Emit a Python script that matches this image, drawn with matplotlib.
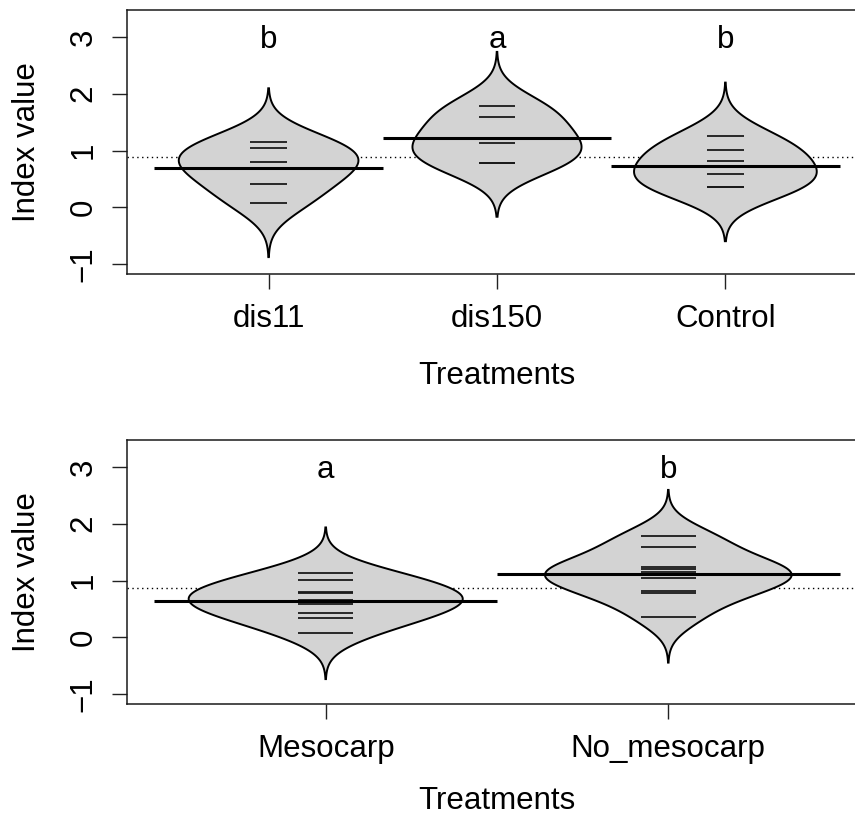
import numpy as np
import matplotlib
matplotlib.use("Agg")
import matplotlib.pyplot as plt

plt.rcParams['font.family'] = ['Liberation Sans', 'DejaVu Sans']

# Index values per treatment group (top panel)
treatments = ["dis11", "dis150", "Control"]
dis11 = [1.15, 1.05, 0.80, 0.69, 0.41, 0.07]
dis150 = [1.79, 1.59, 1.21, 1.13, 0.78, 0.78]
control = [1.25, 1.01, 0.81, 0.58, 0.35, 0.35]
treatment_letters = ["b", "a", "b"]

# Index values per mesocarp group (bottom panel)
mesocarp_groups = ["Mesocarp", "No_mesocarp"]
mesocarp = [1.13, 1.01, 0.80, 0.78, 0.66, 0.58, 0.42, 0.34, 0.07]
no_mesocarp = [1.79, 1.59, 1.24, 1.20, 1.15, 1.05, 0.81, 0.78, 0.36]
mesocarp_letters = ["a", "b"]

y_ticks = [-1, 0, 1, 2, 3]
FS = 22.5


def gauss_kde(values, grid, bw):
    v = np.asarray(values)[:, None]
    z = (grid[None, :] - v) / bw
    return np.exp(-0.5 * z ** 2).sum(axis=0) / (len(values) * bw * np.sqrt(2 * np.pi))


def beanplot(ax, groups, names, letters, bw, xlabel_pad):
    n = len(groups)
    curves = []
    for vals in groups:
        grid = np.linspace(min(vals) - 3 * bw, max(vals) + 3 * bw, 512)
        curves.append((grid, gauss_kde(vals, grid, bw)))
    dmax = max(d.max() for _, d in curves)
    scale = 0.4 / dmax

    allvals = np.concatenate([np.asarray(g) for g in groups])
    ax.axhline(allvals.mean(), color="black", lw=1.0, ls=(0, (1, 2.5)), zorder=1)

    for i, (vals, (grid, dens)) in enumerate(zip(groups, curves)):
        pos = i + 1
        half = dens * scale
        xs = np.concatenate([pos - half, (pos + half)[::-1]])
        ys = np.concatenate([grid, grid[::-1]])
        ax.fill(xs, ys, facecolor="#d3d3d3", edgecolor="black", lw=1.4, zorder=2)
        for v in vals:
            ax.plot([pos - 0.08, pos + 0.08], [v, v], color="#1a1a1a", lw=1.3,
                    solid_capstyle="butt", zorder=3)
        m = np.mean(vals)
        ax.plot([pos - 0.5, pos + 0.5], [m, m], color="black", lw=2.2,
                solid_capstyle="butt", zorder=4)
        ax.text(pos, 3.0, letters[i], ha="center", va="center_baseline", fontsize=FS)

    ax.set_xlim(0.5 - 0.04 * n, n + 0.5 + 0.04 * n)
    ax.set_ylim(-1 - 0.04 * 4.3, 3.3 + 0.04 * 4.3)
    ax.set_xticks(range(1, n + 1))
    ax.set_xticklabels(names, fontsize=FS)
    ax.set_yticks(y_ticks)
    ax.set_yticklabels([str(t).replace("-", "\u2212") for t in y_ticks],
                       fontsize=FS, rotation=90, va="center")
    ax.tick_params(axis="both", length=10.8, width=1.0, color="#222222")
    ax.tick_params(axis="y", pad=9.5)
    ax.tick_params(axis="x", pad=10.5)
    for s in ax.spines.values():
        s.set_linewidth(1.1)
        s.set_color("#1a1a1a")
    ax.set_xlabel("Treatments", fontsize=FS, labelpad=xlabel_pad)
    ax.set_ylabel("Index value", fontsize=FS, labelpad=19)


fig = plt.figure(figsize=(8.55, 8.17), dpi=100)
ax1 = fig.add_axes([127 / 855, 1 - 274 / 817, 740 / 855, 264 / 817])
ax2 = fig.add_axes([127 / 855, 1 - 704 / 817, 740 / 855, 264 / 817])

beanplot(ax1, [dis11, dis150, control], treatments, treatment_letters, bw=0.315,
         xlabel_pad=20)
beanplot(ax2, [mesocarp, no_mesocarp], mesocarp_groups, mesocarp_letters, bw=0.268,
         xlabel_pad=16)

fig.savefig("out.png", dpi=100)
